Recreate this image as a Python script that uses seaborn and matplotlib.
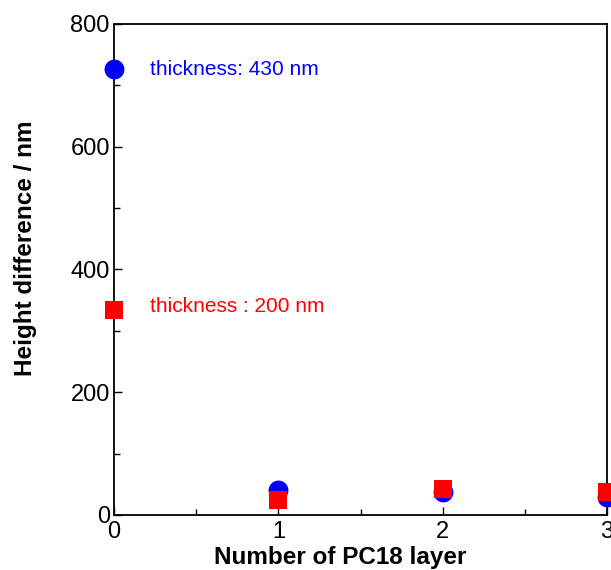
import matplotlib
matplotlib.use("Agg")
import matplotlib.pyplot as plt
from matplotlib.ticker import MultipleLocator
import pandas as pd
import seaborn as sns

# values
layers = [0, 1, 2, 3]
height_430 = [726, 41, 37, 29]
height_200 = [334, 24, 42, 37]

blue = "#0000ff"
red = "#ff0000"

sns.set_style("ticks")
plt.rcParams['font.family'] = ['Liberation Sans', 'DejaVu Sans']
plt.rcParams['text.color'] = 'black'
plt.rcParams['axes.labelcolor'] = 'black'
plt.rcParams['xtick.color'] = 'black'
plt.rcParams['ytick.color'] = 'black'

df430 = pd.DataFrame({'layer': layers, 'height': height_430})
df200 = pd.DataFrame({'layer': layers, 'height': height_200})

fig = plt.figure(figsize=(6.11, 5.70), dpi=100)
ax = fig.add_axes([0.1866, 0.0965, 0.8069, 0.8614])

sns.scatterplot(data=df430, x='layer', y='height', color=blue, marker='o',
                s=205, linewidth=0, clip_on=False, zorder=3, ax=ax)
sns.scatterplot(data=df200, x='layer', y='height', color=red, marker='s',
                s=170, linewidth=0, clip_on=False, zorder=4, ax=ax)

ax.text(0.22, 726, 'thickness: 430 nm', color=blue, fontsize=15, va='center')
ax.text(0.22, 339, 'thickness : 200 nm', color=red, fontsize=15, va='center')

ax.set_xlim(0, 3)
ax.set_ylim(0, 800)
ax.xaxis.set_major_locator(MultipleLocator(1))
ax.xaxis.set_minor_locator(MultipleLocator(0.5))
ax.yaxis.set_major_locator(MultipleLocator(200))
ax.yaxis.set_minor_locator(MultipleLocator(100))
ax.tick_params(which='both', direction='in', labelsize=17, width=1.0,
               color='black', labelcolor='black')
ax.tick_params(which='major', length=6)
ax.tick_params(which='minor', length=4)
ax.tick_params(axis='x', pad=4)
ax.tick_params(axis='y', pad=3)

for sp in ax.spines.values():
    sp.set_visible(True)
    sp.set_linewidth(1.3)
    sp.set_color('black')

ax.set_xlabel('Number of PC18 layer', fontsize=17.5, fontweight='bold')
ax.set_ylabel('Height difference / nm', fontsize=17.5, fontweight='bold')
ax.xaxis.set_label_coords(0.458, -0.063)
ax.yaxis.set_label_coords(-0.157, 0.544)

fig.savefig('out.png', dpi=100)
